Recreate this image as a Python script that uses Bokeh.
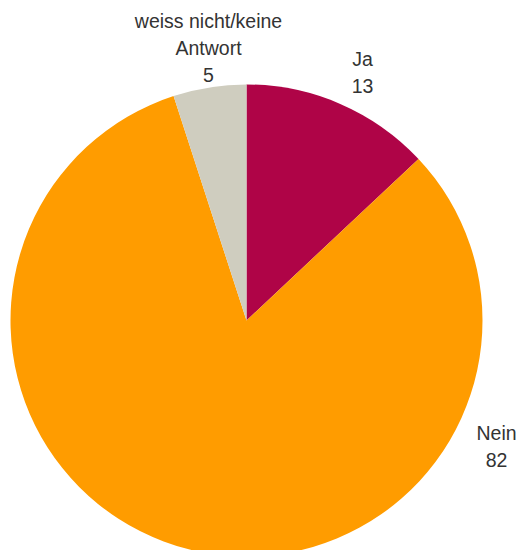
import math
from bokeh.plotting import figure
from bokeh.models import Range1d, ColumnDataSource
from bokeh.core.properties import value
from bokeh.embed import file_html
from bokeh.resources import INLINE

categories = ["Ja", "Nein", "weiss nicht/keine Antwort"]
values = [13, 82, 5]
label_lines = [["Ja", "13"], ["Nein", "82"], ["weiss nicht/keine", "Antwort", "5"]]
colors = ["#AF0447", "#FF9C00", "#CFCDBF"]
# label anchor offsets from pie centre (px), first line
label_offsets = [(116, 262), (250, -112), (-38, 300)]

W, H = 518, 550
cx, cy, r = 246, H - 320, 236

p = figure(width=W, height=H, output_backend="svg", toolbar_location=None,
           x_range=Range1d(0, W), y_range=Range1d(0, H), min_border=0)
p.axis.visible = False
p.grid.visible = False
p.outline_line_color = None
p.background_fill_color = "white"

total = sum(values)
starts, ends = [], []
a = math.pi / 2
for v in values:
    starts.append(a)
    a = a - v / total * 2 * math.pi
    ends.append(a)

src = ColumnDataSource(dict(cat=categories, val=values, start=starts, end=ends, color=colors))
p.wedge(x=cx, y=cy, radius=r, start_angle="start", end_angle="end", direction="clock",
        fill_color="color", line_color=None, source=src)

tx, ty, tt, to = [], [], [], []
for lines, (dx, dy) in zip(label_lines, label_offsets):
    for i, s in enumerate(lines):
        tx.append(cx + dx)
        ty.append(cy + dy)
        tt.append(s)
        to.append(i * 27)
p.text(x=tx, y=ty, text=tt, y_offset=to, text_align="center", text_baseline="middle",
       text_font=value("Liberation Sans"), text_font_size="19.5px", text_color="#333333")

open("out.html", "w").write(file_html(p, INLINE))
